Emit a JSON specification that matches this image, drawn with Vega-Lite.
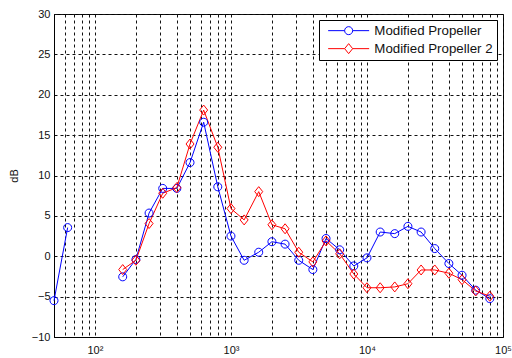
{
  "$schema": "https://vega.github.io/schema/vega-lite/v6.json",
  "width": 449,
  "height": 323,
  "autosize": {"type": "none"},
  "padding": {"left": 54, "top": 14, "right": 9, "bottom": 21},
  "background": "white",
  "config": {
    "font": "Liberation Sans",
    "view": {"stroke": "black", "strokeWidth": 1},
    "axis": {
      "grid": true,
      "gridColor": "#111",
      "gridDash": [3, 3],
      "gridWidth": 1,
      "gridOpacity": 1,
      "ticks": false,
      "domainColor": "black",
      "labelColor": "#111",
      "labelFontSize": 11,
      "labelFont": "Liberation Sans",
      "labelOverlap": false,
      "labelFlush": false,
      "labelBound": false
    }
  },
  "data": {
    "values": [
      {"f": 50, "series": "Modified Propeller", "db": -5.5},
      {"f": 63, "series": "Modified Propeller", "db": 3.55},
      {"f": 80, "series": "Modified Propeller", "db": null},
      {"f": 100, "series": "Modified Propeller", "db": null},
      {"f": 125, "series": "Modified Propeller", "db": null},
      {"f": 160, "series": "Modified Propeller", "db": -2.55},
      {"f": 200, "series": "Modified Propeller", "db": -0.4},
      {"f": 250, "series": "Modified Propeller", "db": 5.35},
      {"f": 315, "series": "Modified Propeller", "db": 8.4},
      {"f": 400, "series": "Modified Propeller", "db": 8.4},
      {"f": 500, "series": "Modified Propeller", "db": 11.6},
      {"f": 630, "series": "Modified Propeller", "db": 16.6},
      {"f": 800, "series": "Modified Propeller", "db": 8.6},
      {"f": 1000, "series": "Modified Propeller", "db": 2.5},
      {"f": 1250, "series": "Modified Propeller", "db": -0.5},
      {"f": 1600, "series": "Modified Propeller", "db": 0.5},
      {"f": 2000, "series": "Modified Propeller", "db": 1.8},
      {"f": 2500, "series": "Modified Propeller", "db": 1.5},
      {"f": 3150, "series": "Modified Propeller", "db": -0.5},
      {"f": 4000, "series": "Modified Propeller", "db": -1.65},
      {"f": 5000, "series": "Modified Propeller", "db": 2.2},
      {"f": 6300, "series": "Modified Propeller", "db": 0.8},
      {"f": 8000, "series": "Modified Propeller", "db": -1.2},
      {"f": 10000, "series": "Modified Propeller", "db": -0.2},
      {"f": 12500, "series": "Modified Propeller", "db": 3.0},
      {"f": 16000, "series": "Modified Propeller", "db": 2.8},
      {"f": 20000, "series": "Modified Propeller", "db": 3.7},
      {"f": 25000, "series": "Modified Propeller", "db": 3.0},
      {"f": 31500, "series": "Modified Propeller", "db": 0.95},
      {"f": 40000, "series": "Modified Propeller", "db": -0.9},
      {"f": 50000, "series": "Modified Propeller", "db": -2.35},
      {"f": 63000, "series": "Modified Propeller", "db": -4.2},
      {"f": 80000, "series": "Modified Propeller", "db": -5.25},
      {"f": 160, "series": "Modified Propeller 2", "db": -1.65},
      {"f": 200, "series": "Modified Propeller 2", "db": -0.5},
      {"f": 250, "series": "Modified Propeller 2", "db": 4.05},
      {"f": 315, "series": "Modified Propeller 2", "db": 7.8},
      {"f": 400, "series": "Modified Propeller 2", "db": 8.5},
      {"f": 500, "series": "Modified Propeller 2", "db": 13.9},
      {"f": 630, "series": "Modified Propeller 2", "db": 18.1},
      {"f": 800, "series": "Modified Propeller 2", "db": 13.5},
      {"f": 1000, "series": "Modified Propeller 2", "db": 5.9},
      {"f": 1250, "series": "Modified Propeller 2", "db": 4.5},
      {"f": 1600, "series": "Modified Propeller 2", "db": 8.0},
      {"f": 2000, "series": "Modified Propeller 2", "db": 3.9},
      {"f": 2500, "series": "Modified Propeller 2", "db": 3.4},
      {"f": 3150, "series": "Modified Propeller 2", "db": 0.5},
      {"f": 4000, "series": "Modified Propeller 2", "db": -0.7},
      {"f": 5000, "series": "Modified Propeller 2", "db": 1.9},
      {"f": 6300, "series": "Modified Propeller 2", "db": 0.3},
      {"f": 8000, "series": "Modified Propeller 2", "db": -2.2},
      {"f": 10000, "series": "Modified Propeller 2", "db": -3.9},
      {"f": 12500, "series": "Modified Propeller 2", "db": -3.9},
      {"f": 16000, "series": "Modified Propeller 2", "db": -3.8},
      {"f": 20000, "series": "Modified Propeller 2", "db": -3.4},
      {"f": 25000, "series": "Modified Propeller 2", "db": -1.7},
      {"f": 31500, "series": "Modified Propeller 2", "db": -1.7},
      {"f": 40000, "series": "Modified Propeller 2", "db": -2.1},
      {"f": 50000, "series": "Modified Propeller 2", "db": -2.9},
      {"f": 63000, "series": "Modified Propeller 2", "db": -4.3},
      {"f": 80000, "series": "Modified Propeller 2", "db": -4.95}
    ]
  },
  "encoding": {
    "x": {
      "field": "f",
      "type": "quantitative",
      "scale": {"type": "log", "domain": [50, 100000], "nice": false},
      "axis": {
        "title": null,
        "values": [50, 60, 70, 80, 90, 100, 200, 300, 400, 500, 600, 700, 800, 900, 1000, 2000, 3000, 4000, 5000, 6000, 7000, 8000, 9000, 10000, 20000, 30000, 40000, 50000, 60000, 70000, 80000, 90000, 100000],
        "labelExpr": "datum.value == 100 ? '10²' : datum.value == 1000 ? '10³' : datum.value == 10000 ? '10⁴' : datum.value == 100000 ? '10⁵' : ''",
        "labelPadding": 7
      }
    },
    "y": {
      "field": "db",
      "type": "quantitative",
      "scale": {"domain": [-10, 30], "nice": false},
      "axis": {
        "title": "dB",
        "titleFontSize": 11,
        "titleFontWeight": "normal",
        "titleColor": "#111",
        "titlePadding": 12,
        "values": [-10, -5, 0, 5, 10, 15, 20, 25, 30],
        "labelPadding": 4
      }
    }
  },
  "layer": [
    {
      "mark": {"type": "line", "strokeWidth": 1, "invalid": "break-paths-filter-domains"},
      "encoding": {
        "color": {
          "field": "series",
          "type": "nominal",
          "scale": {"domain": ["Modified Propeller", "Modified Propeller 2"], "range": ["#0000ff", "#ff0000"]},
          "legend": {
            "title": null,
            "orient": "top-right",
            "offset": 6,
            "strokeColor": "black",
            "fillColor": "white",
            "padding": 4,
            "labelFontSize": 13.3,
            "labelColor": "#111",
            "labelFont": "Liberation Sans",
            "symbolSize": 100,
            "symbolStrokeWidth": 1,
            "symbolOffset": 19,
            "labelOffset": 19,
            "rowPadding": 4,
            "cornerRadius": 0,
            "encode": {
              "symbols": {
                "update": {
                  "shape": {"signal": "datum.value === 'Modified Propeller' ? 'M-4.1,0L-0.8,0M0.8,0L4.1,0M0.8,0A0.8,0.8 0 1,1 -0.8,0A0.8,0.8 0 1,1 0.8,0' : 'M-4.1,0L-0.8,0M0.8,0L4.1,0M0,-1L0.8,0L0,1L-0.8,0Z'"},
                  "fill": {"value": "transparent"},
                  "strokeWidth": {"value": 1}
                }
              }
            }
          }
        }
      }
    },
    {
      "transform": [{"filter": "datum.series === 'Modified Propeller' && isValid(datum.db)"}],
      "mark": {"type": "point", "filled": false, "strokeWidth": 1, "size": 100, "opacity": 1, "shape": "M0.8,0A0.8,0.8 0 1,1 -0.8,0A0.8,0.8 0 1,1 0.8,0Z"},
      "encoding": {
        "color": {"field": "series", "type": "nominal", "legend": null}
      }
    },
    {
      "transform": [{"filter": "datum.series === 'Modified Propeller 2'"}],
      "mark": {"type": "point", "filled": false, "strokeWidth": 1, "size": 100, "opacity": 1, "shape": "M0,-1L0.8,0L0,1L-0.8,0Z"},
      "encoding": {
        "color": {"field": "series", "type": "nominal", "legend": null}
      }
    }
  ]
}
